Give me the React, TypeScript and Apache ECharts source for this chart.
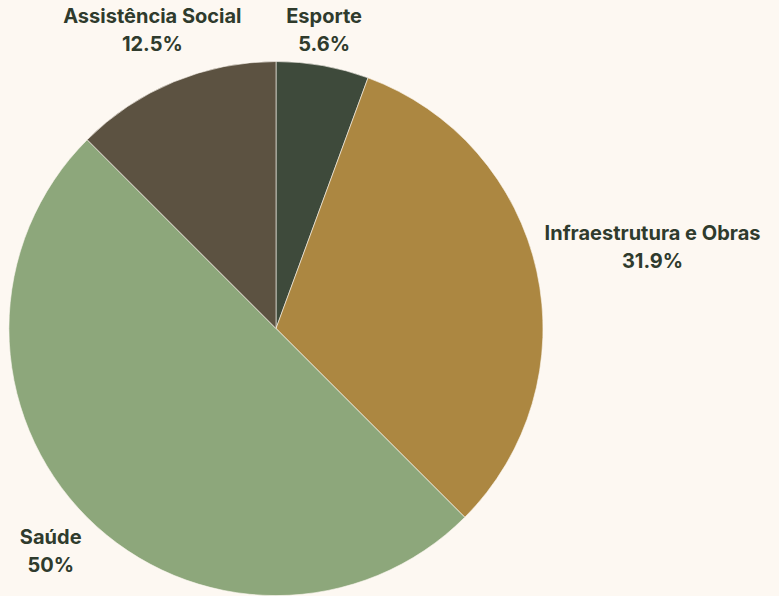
import React, { useEffect, useRef } from "react";
import * as echarts from "echarts";

const categories = ["Esporte", "Infraestrutura e Obras", "Saúde", "Assistência Social"];
const values = [5.6, 31.9, 50, 12.5];
const colors = ["#3e4a3b", "#ac8741", "#8da77b", "#5c5241"];

const CX = 276;
const CY = 328.5;
const R = 267;
const GAP = 8;

export default function App() {
  const ref = useRef<HTMLDivElement>(null);
  useEffect(() => {
    document.body.style.margin = "0";
    if (!ref.current) return;
    const chart = echarts.init(ref.current, null, { renderer: "svg" });
    const total = values.reduce((a, b) => a + b, 0);
    const cum: number[] = [];
    let acc = 0;
    values.forEach((v) => {
      cum.push(acc);
      acc += v;
    });
    chart.setOption({
      animation: false,
      backgroundColor: "#fdf8f2",
      series: [
        {
          type: "pie",
          center: [CX, CY],
          radius: R,
          startAngle: 90,
          clockwise: true,
          avoidLabelOverlap: false,
          data: categories.map((c, i) => ({
            name: c,
            value: values[i],
            itemStyle: { color: colors[i] },
          })),
          itemStyle: { borderColor: "#fdf8f2", borderWidth: 0.6 },
          label: {
            show: true,
            position: "outside",
            overflow: "none",
            formatter: (p: any) => `${p.name}\n${values[p.dataIndex]}%`,
            fontFamily: "Inter, 'Noto Sans', sans-serif",
            fontWeight: "bold",
            fontSize: 20,
            lineHeight: 28,
            color: "#2f3b2d",
            align: "center",
          },
          labelLine: { show: false },
          emphasis: { disabled: true },
          labelLayout: (p: any) => {
            const i = p.dataIndex;
            const mid = ((cum[i] + values[i] / 2) / total) * Math.PI * 2;
            const s = Math.sin(mid);
            const c = Math.cos(mid);
            const w = p.labelRect.width;
            const h = p.labelRect.height;
            const ax = CX + (R + GAP) * s;
            const ay = CY - (R + GAP) * c;
            const k = Math.min(1, Math.max(0, (Math.abs(s) - 0.3) / 0.4));
            const x = ax + Math.sign(s) * k * (w / 2);
            const kv = Math.min(1, 0.3 + Math.abs(c) * 2.4);
            let y: number;
            if (c > 0.5) {
              y = CY - R - 4 - h / 2;
            } else {
              y = ay + (c > 0 ? -1 : 1) * kv * (h / 2);
            }
            return { x, y, align: "center", verticalAlign: "middle" };
          },
        },
      ],
    });
    return () => chart.dispose();
  }, []);
  return <div ref={ref} style={{ width: 779, height: 596 }} />;
}
